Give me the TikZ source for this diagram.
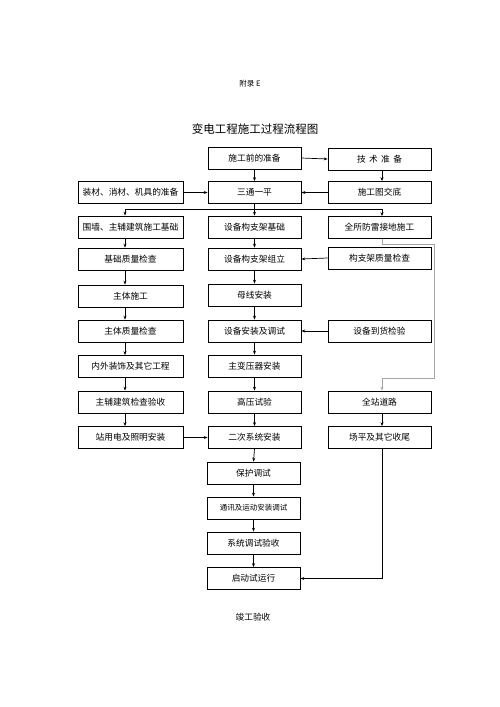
\documentclass[tikz,border=0pt]{standalone}
\usepackage{fontspec}
\setmainfont{Noto Sans CJK SC}
\usepackage{xcolor}
\usetikzlibrary{arrows.meta}

\tikzset{
  box/.style={draw, line width=0.7pt, minimum height=22pt, inner sep=0pt, font=\fontsize{8.7}{10}\selectfont},
  lbox/.style={box, minimum width=105pt},
  mbox/.style={box, minimum width=93pt},
  rbox/.style={box, minimum width=103pt},
  flow/.style={->, line width=0.7pt},
}

\begin{document}
\begin{tikzpicture}[x=1pt,y=-1pt,>={Stealth[length=4pt,width=3pt]}]
\useasboundingbox (0,0) rectangle (500,707);

\node [font=\fontsize{7.5}{9}\selectfont] (fulu) at (250,84) {附录 E};
\node [font=\fontsize{11.5}{13}\selectfont] (biaoti) at (255,129) {变电工程施工过程流程图};

\coordinate (lx) at (125,0);
\coordinate (rx) at (382,0);

% left
\node [lbox] (l2) at (130.5,192.5) {装材、消材、机具的准备};
\node [lbox] (l3) at (130.5,227) {围墙、主辅建筑施工基础};
\node [lbox] (l4) at (130.5,259) {基础质量检查};
\node [lbox] (l5) at (130.5,296) {主体施工};
\node [lbox] (l6) at (130.5,331) {主体质量检查};
\node [lbox] (l7) at (130.5,366.5) {内外装饰及其它工程};
\node [lbox] (l8) at (130.5,402) {主辅建筑检查验收};
\node [lbox] (l9) at (130.5,437.5) {站用电及照明安装};

% middle
\node [mbox] (m1) at (254.5,158) {施工前的准备};
\node [mbox] (m2) at (254.5,192.5) {三通一平};
\node [mbox] (m3) at (254.5,227) {设备构支架基础};
\node [mbox] (m4) at (254.5,259) {设备构支架组立};
\node [mbox] (m5) at (254.5,295) {母线安装};
\node [mbox] (m6) at (254.5,331) {设备安装及调试};
\node [mbox] (m7) at (254.5,366) {主变压器安装};
\node [mbox] (m8) at (254.5,402) {高压试验};
\node [mbox] (m9) at (254.5,437.5) {二次系统安装};
\node [mbox] (m10) at (253.5,473) {保护调试};
\node [mbox, font=\fontsize{7.5}{9}\selectfont] (m11) at (253.5,508) {通讯及运动安装调试};
\node [mbox] (m12) at (253.5,543) {系统调试验收};
\node [mbox] (m13) at (253.5,578.5) {启动试运行};
\node [font=\fontsize{8.7}{10}\selectfont] (jungong) at (253,617) {竣工验收};

% right
\node [rbox] (r1) at (379.5,159) {技\,\ 术\,\ 准\,\ 备};
\node [rbox] (r2) at (379.5,192.5) {施工图交底};
\node [rbox] (r3) at (379.5,227.5) {全所防雷接地施工};
\node [rbox] (r4) at (379.5,258) {构支架质量检查};
\node [rbox] (r6) at (379.5,331) {设备到货检验};
\node [rbox] (r8) at (379.5,402) {全站道路};
\node [rbox] (r9) at (379.5,437.5) {场平及其它收尾};

\coordinate (fz) at (254.5,209);
\coordinate (gj) at (434,378);

\draw [flow] (m1.east) -- (r1.west);
\draw [flow] (r1.south -| rx) -- (r2.north -| rx);
\draw [flow] (r2.west) -- (m2.east);
\draw [flow] (l2.east) -- (m2.west);
\draw [flow] (m1.south) -- (m2.north);
\draw [flow] (m2.south) -- (m3.north);
\draw [flow] (fz -| lx) -- (l3.north -| lx);
\draw [flow] (fz -| lx) -| (r3.north -| rx);

\draw [flow, gray!70] (r3.south -| rx) -- ++(0,5) -| (gj) -| (r8.north -| rx);
\draw [flow] (r8.south -| rx) -- (r9.north -| rx);
\draw [flow] (r9.south -| rx) |- (m13.east);

\draw [flow] (r4.west) -- (m4.east);
\draw [flow] (r6.west) -- (m6.east);
\draw [flow] (l9.east) -- (m9.west);

\foreach \a/\b in {3/4,4/5,5/6,6/7,7/8,8/9}
  \draw [flow] (l\a.south -| lx) -- (l\b.north -| lx);
\foreach \a/\b in {3/4,4/5,5/6,6/7,7/8,8/9,9/10,10/11,11/12,12/13}
  \draw [flow] (m\a.south) -- (m\b.north);

\end{tikzpicture}
\end{document}
